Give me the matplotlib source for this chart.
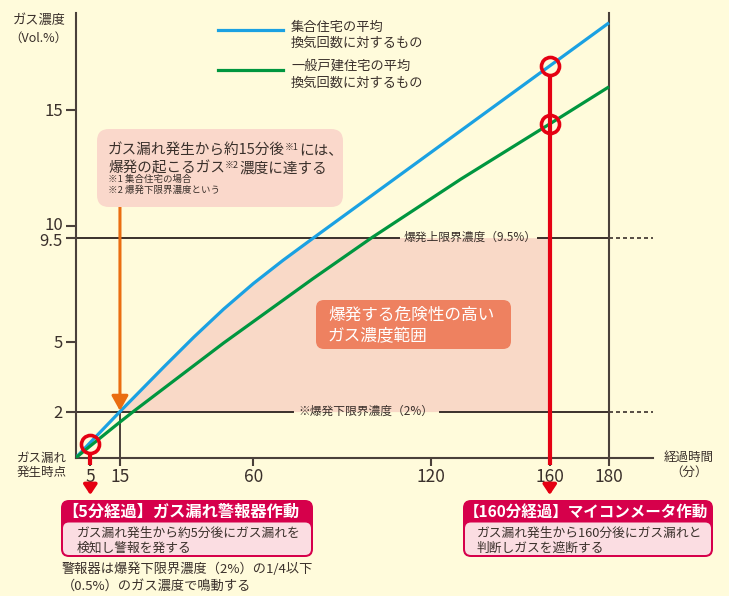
import numpy as np
import matplotlib
matplotlib.use('Agg')
import matplotlib.pyplot as plt
from matplotlib.patches import FancyBboxPatch
from matplotlib.transforms import Affine2D, ScaledTranslation

plt.rcParams['font.family'] = ['Noto Sans CJK JP', 'DejaVu Sans']

# values
minutes_blue = [0, 5, 15, 30, 40, 50, 60, 70, 80, 100, 120, 140, 160, 180]
conc_blue = [0, 0.67, 2.0, 3.95, 5.22, 6.42, 7.52, 8.52, 9.46, 11.32, 13.18, 15.04, 16.9, 18.76]
minutes_green = [0, 5, 15, 20, 50, 80, 100, 130, 160, 180]
conc_green = [0, 0.52, 1.55, 2.05, 4.96, 7.72, 9.5, 12.02, 14.4, 16.0]
xticks = [5, 15, 60, 120, 160, 180]
yticks = [2, 5, 9.5, 10, 15]
ytick_labels = ['2', '5', '9.5', '10', '15']
lower_limit = 2
upper_limit = 9.5
alarm_time = 5
meter_time = 160
end_time = 180

bg = '#FFFBDB'
ink = '#3a302b'
axis_col = '#4a403a'
blue = '#1BA1E2'
green = '#00963F'
red = '#E50012'
orange = '#EA6D10'
crimson = '#D6004B'

W, H = 729, 596
fig = plt.figure(figsize=(W / 100, H / 100), dpi=100, facecolor=bg)
# pixel coordinates measured from the top-left corner
px = Affine2D().scale(1 / W, -1 / H).translate(0, 1) + fig.transFigure

x0, y0 = 75.5, 458
sx, sy = 2.964, 23.2
xmax = (653 - x0) / sx
ymax = (y0 - 13) / sy
ax = fig.add_axes([x0 / W, 1 - y0 / H, (653 - x0) / W, (y0 - 13) / H])
ax.set_facecolor('none')
ax.set_xlim(0, xmax)
ax.set_ylim(0, ymax)
for s in ['top', 'right']:
    ax.spines[s].set_visible(False)
for s in ['left', 'bottom']:
    ax.spines[s].set_color(axis_col)
    ax.spines[s].set_linewidth(1.5)
ax.set_xticks(xticks)
ax.set_xticklabels([str(v) for v in xticks])
ax.set_yticks(yticks)
ax.set_yticklabels(ytick_labels)
ax.tick_params(axis='x', direction='out', length=6, width=1.5, color=axis_col,
               labelsize=12.5, labelcolor=ink, pad=1)
ax.tick_params(axis='y', direction='out', length=7, width=1.5, color=axis_col,
               labelsize=12, labelcolor=ink, pad=2)
# keep 9.5 and 10 apart a little
for lab in ax.get_yticklabels():
    if lab.get_text() == '10':
        lab.set_transform(lab.get_transform() + ScaledTranslation(0, 2 / 100, fig.dpi_scale_trans))
    if lab.get_text() == '9.5':
        lab.set_transform(lab.get_transform() + ScaledTranslation(0, -2 / 100, fig.dpi_scale_trans))

# danger zone between the limits, right of the blue curve
yy = np.linspace(lower_limit, upper_limit, 200)
ax.fill_betweenx(yy, np.interp(yy, conc_blue, minutes_blue), meter_time,
                 color='#F9D9C7', lw=0, zorder=1)

# limit lines with gaps for their labels
lk = dict(color=ink, lw=1.4, zorder=2)
ax.plot([0, 109.2], [upper_limit] * 2, **lk)
ax.plot([156.1, end_time], [upper_limit] * 2, **lk)
ax.plot([0, 73.3], [lower_limit] * 2, **lk)
ax.plot([123.0, end_time], [lower_limit] * 2, **lk)
for v in [upper_limit, lower_limit]:
    ax.plot([end_time, xmax], [v, v], color=ink, lw=1.2, dashes=(2.4, 1.8),
            zorder=2, clip_on=False)
ax.text(133.2, upper_limit, '爆発上限界濃度（9.5%）', fontsize=8.5, color=ink,
        ha='center', va='center', zorder=3)
ax.text(97.8, lower_limit, '※爆発下限界濃度（2%）', fontsize=8.5, color=ink,
        ha='center', va='center', zorder=3)

# verticals at 15 and 180 minutes
ax.plot([15, 15], [0, lower_limit], color=axis_col, lw=1.4, zorder=2)
ax.plot([end_time, end_time], [0, ymax], color=axis_col, lw=1.5, zorder=2,
        clip_on=False)

ax.plot(minutes_blue, conc_blue, color=blue, lw=2.3, zorder=3,
        solid_capstyle='butt', solid_joinstyle='round')
ax.plot(minutes_green, conc_green, color=green, lw=2.3, zorder=3,
        solid_capstyle='butt', solid_joinstyle='round')

# orange arrow from callout down to (15, 2)
ax.annotate('', xy=(15, lower_limit + 0.03), xytext=(15, (y0 - 207) / sy),
            arrowprops=dict(arrowstyle='-|>,head_length=0.9,head_width=0.5',
                            color=orange, lw=2.2, mutation_scale=10,
                            shrinkA=0, shrinkB=0), zorder=4)

# red markers: line down to the tick label, then a small arrow below it
c5 = (np.interp(alarm_time, minutes_blue, conc_blue)
      + np.interp(alarm_time, minutes_green, conc_green)) / 2
c160b = np.interp(meter_time, minutes_blue, conc_blue)
c160g = np.interp(meter_time, minutes_green, conc_green)
r = 8 / sy
above_label = (y0 - 465) / sy
ax.plot([alarm_time] * 2, [c5 - r, above_label], color=red, lw=3, zorder=5,
        clip_on=False, solid_capstyle='butt')
ax.plot([meter_time] * 2, [c160b - r, above_label], color=red, lw=3, zorder=5,
        clip_on=False, solid_capstyle='butt')
ax.plot([alarm_time, meter_time, meter_time], [c5, c160b, c160g], 'o', ms=13,
        mfc='none', mec=red, mew=2.6, zorder=6, clip_on=False)
for t in [alarm_time, meter_time]:
    ax.annotate('', xy=(t, (y0 - 495) / sy), xytext=(t, (y0 - 484) / sy),
                arrowprops=dict(arrowstyle='-|>,head_length=0.6,head_width=0.4',
                                color=red, lw=2.6, mutation_scale=10,
                                shrinkA=0, shrinkB=0), annotation_clip=False)

# axis captions
fig.text(66, 20, 'ガス濃度', transform=px, fontsize=9.5, color=ink, ha='right', va='center')
fig.text(67, 38, '（Vol.%）', transform=px, fontsize=9, color=ink, ha='right', va='center')
fig.text(67, 458, 'ガス漏れ', transform=px, fontsize=9, color=ink, ha='right', va='center')
fig.text(67, 472, '発生時点', transform=px, fontsize=9, color=ink, ha='right', va='center')
fig.text(689, 457, '経過時間', transform=px, fontsize=9, color=ink, ha='center', va='center')
fig.text(689, 472, '（分）', transform=px, fontsize=9, color=ink, ha='center', va='center')

# legend
for yl, col, l1, l2 in [(30, blue, '集合住宅の平均', '換気回数に対するもの'),
                        (69.5, green, '一般戸建住宅の平均', '換気回数に対するもの')]:
    fig.add_artist(plt.Line2D([218, 283], [yl, yl], transform=px, color=col, lw=2.3))
    fig.text(291, yl - 3, l1, transform=px, fontsize=9.5, color=ink, va='center')
    fig.text(291, yl + 13.5, l2, transform=px, fontsize=9.5, color=ink, va='center')


def box(x, y, w, h, fc, rad, ec='none', lw=0, z=7):
    fig.add_artist(FancyBboxPatch((x, y), w, h, transform=px,
                                  boxstyle=f'round,pad=0,rounding_size={rad}',
                                  fc=fc, ec=ec, lw=lw, zorder=z))


rend = fig.canvas.get_renderer()


def run(x, y, parts, color=ink):
    for s, size, rise in parts:
        t = fig.text(x, y - rise, s, transform=px, fontsize=size, color=color,
                     ha='left', va='baseline', zorder=8)
        x += t.get_window_extent(rend).width


# callout box
box(97, 129, 246, 78, '#FAD8CB', 12)
run(108, 155, [('ガス漏れ発生から約15分後', 10.5, 0), ('※1', 6.5, 5),
               ('には、', 10.5, 0)])
run(108, 172.5, [('爆発の起こるガス', 10.5, 0), ('※2', 6.5, 5),
                 ('濃度に達する', 10.5, 0)])
fig.text(108, 179.5, '※1 集合住宅の場合', transform=px, fontsize=6.8, color=ink,
         va='center', zorder=8)
fig.text(108, 190.5, '※2 爆発下限界濃度という', transform=px, fontsize=6.8, color=ink,
         va='center', zorder=8)

# danger zone label
box(316, 300, 195, 49, '#EE8160', 8)
fig.text(328, 315, '爆発する危険性の高い', transform=px, fontsize=12, color='white',
         va='center', zorder=8)
fig.text(328, 337, 'ガス濃度範囲', transform=px, fontsize=12, color='white',
         va='center', zorder=8)

# bottom info boxes
for bx, bw, head, hs, body1, body2, tx in [
        (61, 252, '【5分経過】ガス漏れ警報器作動', 11.7,
         'ガス漏れ発生から約5分後にガス漏れを', '検知し警報を発する', 77),
        (463, 250, '【160分経過】マイコンメータ作動', 11.2,
         'ガス漏れ発生から160分後にガス漏れと', '判断しガスを遮断する', 477)]:
    box(bx, 500, bw, 57, crimson, 8)
    box(bx + 2, 522.5, bw - 4, 32.5, '#FBDDE2', 6)
    fig.text(bx + 1, 511.5, head, transform=px, fontsize=hs, color='white',
             weight='bold', va='center', zorder=8)
    fig.text(tx, 533, body1, transform=px, fontsize=9.2, color=ink, va='center', zorder=8)
    fig.text(tx, 548.5, body2, transform=px, fontsize=9.2, color=ink, va='center', zorder=8)

fig.text(62, 569, '警報器は爆発下限界濃度（2%）の1/4以下', transform=px, fontsize=9.5,
         color=ink, va='center')
fig.text(62, 586, '（0.5%）のガス濃度で鳴動する', transform=px, fontsize=9.5,
         color=ink, va='center')

fig.savefig('out.png', dpi=100, facecolor=bg)
